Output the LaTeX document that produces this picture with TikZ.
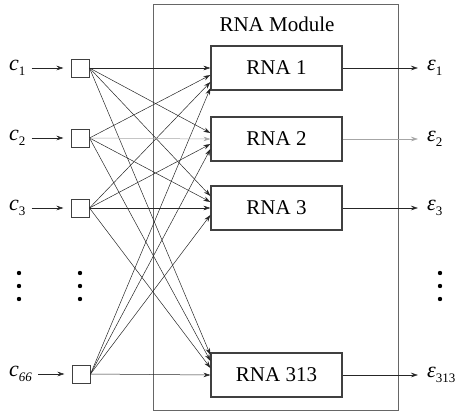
\documentclass[tikz,border=0pt]{standalone}
\usepackage{fontspec}
\setmainfont{Liberation Serif}
\usetikzlibrary{arrows.meta,calc}
\newcommand{\sublbl}[2]{{\itshape #1}\raisebox{-4.5pt}{\fontsize{13}{14}\selectfont #2}}
\begin{document}
\begin{tikzpicture}[x=1pt,y=-1pt,
  rnabox/.style={draw=black!75, line width=1.1pt, minimum width=131pt, minimum height=44pt, inner sep=0pt, font=\fontsize{21}{24}\selectfont},
  inbox/.style={draw=black!75, line width=1pt, minimum size=18pt, inner sep=0pt},
  link/.style={draw=black!85, line width=0.5pt, -{Stealth[length=7pt,width=4.5pt]}},
  glink/.style={link, draw=black!35},
  inlabel/.style={anchor=west, inner sep=3pt, font=\fontsize{22}{26}\selectfont},
  outlabel/.style={anchor=west, inner sep=0pt, font=\fontsize{22}{26}\selectfont},
  vdot/.style={fill=black}
]
\useasboundingbox (0,0) rectangle (464,413);
% module frame
\node[draw=black!60, line width=0.8pt, minimum width=245pt, minimum height=406pt, inner sep=0pt, anchor=north west] (module) at (153,4) {};
\node[font=\fontsize{21}{24}\selectfont] (title) at (277,24) {RNA Module};
% RNA boxes
\node[rnabox] (r1) at (276.5,68) {RNA 1};
\node[rnabox] (r2) at (276.5,139) {RNA 2};
\node[rnabox] (r3) at (276.5,208) {RNA 3};
\node[rnabox] (r4) at (276.5,375) {RNA 313};
% input squares
\node[inbox] (i1) at (80,68) {};
\node[inbox] (i2) at (80,138) {};
\node[inbox] (i3) at (80,208) {};
\node[inbox] (i4) at (81,374) {};
% input labels
\node[inlabel] (c1) at (6,68) {\sublbl{c}{1}};
\node[inlabel] (c2) at (6,138) {\sublbl{c}{2}};
\node[inlabel] (c3) at (6,208) {\sublbl{c}{3}};
\node[inlabel] (c4) at (6,374) {\sublbl{c}{\itshape 66}};
\foreach \k in {1,2,3,4}
  \draw[link, shorten <=3pt, shorten >=7pt] (c\k.east) -- (i\k.west);
% output labels
\node[outlabel] (o1) at (427,68) {\sublbl{ε}{1}};
\node[outlabel] (o2) at (427,139) {\sublbl{ε}{2}};
\node[outlabel] (o3) at (427,208) {\sublbl{ε}{3}};
\node[outlabel] (o4) at (427,375) {\sublbl{ε}{313}};
\draw[link, shorten >=9pt] (r1.east) -- (o1.west);
\draw[glink, shorten >=9pt] (r2.east) -- (o2.west);
\draw[link, shorten >=9pt] (r3.east) -- (o3.west);
\draw[link, shorten >=9pt] (r4.east) -- (o4.west);
% full connections
\foreach \s/\t/\o in {1/1/0, 2/1/7, 3/1/14, 4/1/20,
                      1/2/-6, 3/2/5, 4/2/10,
                      1/3/-12, 2/3/-6, 3/3/0, 4/3/7,
                      1/4/-20, 2/4/-14, 3/4/-7, 4/4/0}
  \draw[link] (i\s.east) -- ($(r\t.west)+(0,\o)$);
\draw[glink] (i2.east) -- (r2.west);
% ellipsis dots
\foreach \x in {19,80,440}
  \foreach \y in {273,286,299}
    \fill[vdot] (\x,\y) circle (2.2);
\end{tikzpicture}
\end{document}
